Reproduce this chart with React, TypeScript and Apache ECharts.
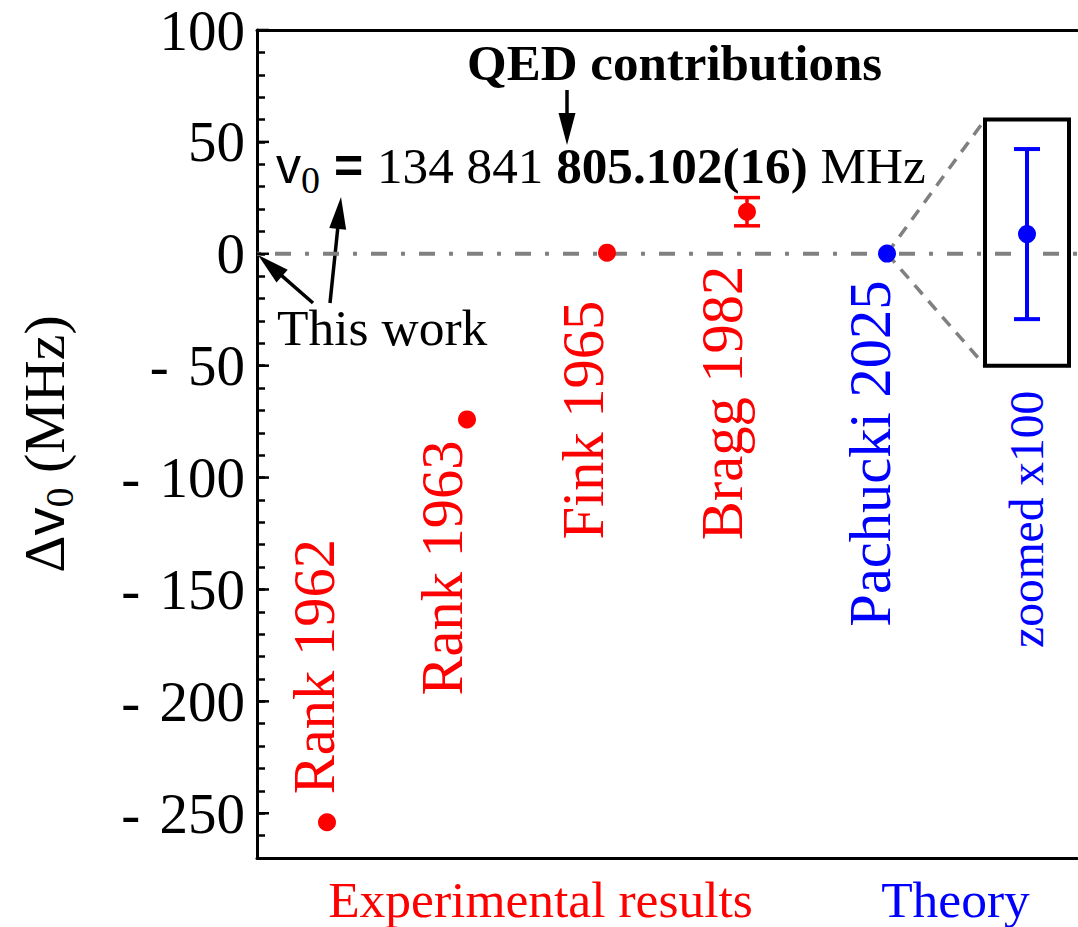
import React, { useEffect, useRef } from "react";
import * as echarts from "echarts";

// ---------- data ----------
const categories = ["Rank 1962", "Rank 1963", "Fink 1965", "Bragg 1982", "Pachucki 2025", "zoomed x100"];
const experimentNames = ["Rank 1962", "Rank 1963", "Fink 1965", "Bragg 1982"];
const experimentValues = [-254, -74, 0.5, 18.8];
const experimentErrors = [0, 0, 0, 6.3];
const theoryNames = ["Pachucki 2025"];
const theoryValues = [0.088];
const theoryErrors = [0.38];
const zoomFactor = 100;
const zoomLabel = "zoomed x100";
const yTicks = [100, 50, 0, -50, -100, -150, -200, -250];
const insetRange = [-50, 60];

// ---------- layout / style ----------
const RED = "#ff0000";
const BLUE = "#0000ff";
const GRAY = "#808080";
const SERIF = '"Liberation Serif", "Times New Roman", serif';
const SANS = '"Liberation Sans", Arial, sans-serif';
const X_MAX = 820 / 140; // slot units visible in the plot

const labelLayout: Record<string, { dx: number; dy: number; align: string }> = {
  "Rank 1962": { dx: -13, dy: -28, align: "left" },
  "Rank 1963": { dx: -25, dy: 21, align: "right" },
  "Fink 1965": { dx: -24, dy: 48, align: "right" },
  "Bragg 1982": { dx: -25, dy: 54, align: "right" },
  "Pachucki 2025": { dx: -17, dy: 27, align: "right" },
};

function arrow(x1: number, y1: number, x2: number, y2: number) {
  const headLen = 32;
  const headW = 17;
  const dx = x2 - x1;
  const dy = y2 - y1;
  const L = Math.hypot(dx, dy);
  const ux = dx / L;
  const uy = dy / L;
  const bx = x2 - ux * headLen;
  const by = y2 - uy * headLen;
  const px = -uy;
  const py = ux;
  return [
    {
      type: "line",
      shape: { x1, y1, x2: bx + ux * 4, y2: by + uy * 4 },
      style: { stroke: "#000", lineWidth: 3.5 },
    },
    {
      type: "polygon",
      shape: {
        points: [
          [x2, y2],
          [bx + (px * headW) / 2, by + (py * headW) / 2],
          [bx - (px * headW) / 2, by - (py * headW) / 2],
        ],
      },
      style: { fill: "#000" },
    },
  ];
}

export default function App() {
  const ref = useRef<HTMLDivElement>(null);

  useEffect(() => {
    document.body.style.margin = "0";
    const chart = echarts.init(ref.current!, null, { renderer: "svg" });

    const xOf = (n: string) => categories.indexOf(n) + 0.5;
    const expData = experimentNames.map((n, i) => [xOf(n), experimentValues[i]]);
    const theoData = theoryNames.map((n, i) => [xOf(n), theoryValues[i]]);
    const errData = experimentNames
      .map((n, i) => [xOf(n), experimentValues[i], experimentErrors[i]])
      .filter((d) => d[2] > 0);
    const labelData = [
      ...experimentNames.map((n, i) => [xOf(n), experimentValues[i], categories.indexOf(n)]),
      ...theoryNames.map((n, i) => [xOf(n), theoryValues[i], categories.indexOf(n)]),
    ];
    const insetX = xOf(zoomLabel);
    const theoX = xOf(theoryNames[0]);

    const frameAxis = {
      type: "value",
      min: 0,
      max: X_MAX,
      axisLine: { show: true, onZero: false, lineStyle: { color: "#000", width: 3 } },
      axisTick: { show: false },
      axisLabel: { show: false },
      splitLine: { show: false },
    };

    const option: any = {
      animation: false,
      backgroundColor: "#fff",
      grid: { left: 257, top: 30, width: 820, height: 828 },
      xAxis: [
        { ...frameAxis, position: "bottom" },
        { ...frameAxis, position: "top" },
      ],
      yAxis: {
        type: "value",
        min: -270,
        max: 100,
        interval: 10,
        axisLine: { show: true, lineStyle: { color: "#000", width: 3 } },
        splitLine: { show: false },
        axisTick: { show: true, inside: true, length: 8, lineStyle: { color: "#000", width: 2.5 } },
        axisLabel: {
          margin: 12,
          color: "#000",
          fontFamily: SERIF,
          fontSize: 57,
          formatter: (v: number) => {
            if (!yTicks.includes(v)) return "";
            return v < 0 ? "{m|-}" + " " + String(-v) : String(v);
          },
          rich: {
            m: { fontFamily: SERIF, fontSize: 57, color: "#000", padding: [0, 5, 0, 0] },
          },
        },
      },
      series: [
        {
          // zero reference line (dash-dot)
          type: "custom",
          name: "reference",
          z: 1,
          data: [[0, 0]],
          encode: { x: 0, y: 1 },
          renderItem: (params: any, api: any) => {
            const p = api.coord([0, api.value(1)]);
            const cs = params.coordSys;
            return {
              type: "line",
              shape: { x1: cs.x, y1: p[1], x2: cs.x + cs.width, y2: p[1] },
              style: { stroke: GRAY, lineWidth: 4, lineDash: [16, 14, 4, 14], lineDashOffset: 30 },
            };
          },
        },
        {
          // major ticks
          type: "custom",
          name: "majorTicks",
          z: 2,
          data: yTicks.map((v) => [0, v]),
          encode: { x: 0, y: 1 },
          renderItem: (params: any, api: any) => {
            const p = api.coord([0, api.value(1)]);
            const x0 = params.coordSys.x;
            return {
              type: "line",
              shape: { x1: x0, y1: p[1], x2: x0 + 12, y2: p[1] },
              style: { stroke: "#000", lineWidth: 2.5 },
            };
          },
        },
        {
          // inset: box, zoom lines, zoomed error bar, label
          type: "custom",
          name: "inset",
          z: 3,
          data: [[insetX, theoryValues[0] * zoomFactor, theoryErrors[0] * zoomFactor]],
          encode: { x: 0, y: 1 },
          renderItem: (params: any, api: any) => {
            const v = api.value(1);
            const e = api.value(2);
            const c = api.coord([insetX, v]);
            const band = api.size([1, 0])[0];
            const half = band * 0.3;
            const topY = api.coord([insetX, insetRange[1]])[1];
            const botY = api.coord([insetX, insetRange[0]])[1];
            const src = api.coord([theoX, theoryValues[0]]);
            const t = api.coord([insetX, v + e]);
            const b = api.coord([insetX, v - e]);
            const cap = 13;
            return {
              type: "group",
              children: [
                {
                  type: "line",
                  shape: { x1: src[0], y1: src[1], x2: c[0] - half, y2: topY },
                  style: { stroke: GRAY, lineWidth: 3.5, lineDash: [12, 9] },
                },
                {
                  type: "line",
                  shape: { x1: src[0], y1: src[1], x2: c[0] - half, y2: botY },
                  style: { stroke: GRAY, lineWidth: 3.5, lineDash: [12, 9] },
                },
                {
                  type: "rect",
                  shape: { x: c[0] - half, y: topY, width: 2 * half, height: botY - topY },
                  style: { stroke: "#000", lineWidth: 4, fill: "none" },
                },
                {
                  type: "line",
                  shape: { x1: t[0], y1: t[1], x2: b[0], y2: b[1] },
                  style: { stroke: BLUE, lineWidth: 4 },
                },
                {
                  type: "line",
                  shape: { x1: t[0] - cap, y1: t[1], x2: t[0] + cap, y2: t[1] },
                  style: { stroke: BLUE, lineWidth: 4 },
                },
                {
                  type: "line",
                  shape: { x1: b[0] - cap, y1: b[1], x2: b[0] + cap, y2: b[1] },
                  style: { stroke: BLUE, lineWidth: 4 },
                },
                {
                  type: "circle",
                  shape: { cx: c[0], cy: c[1], r: 9 },
                  style: { fill: BLUE },
                },
                {
                  type: "text",
                  x: c[0],
                  y: botY + 25,
                  rotation: Math.PI / 2,
                  style: {
                    text: zoomLabel,
                    fill: BLUE,
                    fontFamily: SERIF,
                    fontSize: 47.5,
                    align: "right",
                    verticalAlign: "middle",
                  },
                },
              ],
            };
          },
        },
        {
          // error bars
          type: "custom",
          name: "errorbars",
          z: 4,
          data: errData,
          encode: { x: 0, y: 1 },
          renderItem: (params: any, api: any) => {
            const x = api.value(0);
            const v = api.value(1);
            const e = api.value(2);
            const t = api.coord([x, v + e]);
            const b = api.coord([x, v - e]);
            const cap = 13;
            const col = RED;
            return {
              type: "group",
              children: [
                { type: "line", shape: { x1: t[0], y1: t[1], x2: b[0], y2: b[1] }, style: { stroke: col, lineWidth: 3.5 } },
                { type: "line", shape: { x1: t[0] - cap, y1: t[1], x2: t[0] + cap, y2: t[1] }, style: { stroke: col, lineWidth: 3.5 } },
                { type: "line", shape: { x1: b[0] - cap, y1: b[1], x2: b[0] + cap, y2: b[1] }, style: { stroke: col, lineWidth: 3.5 } },
              ],
            };
          },
        },
        {
          type: "scatter",
          name: "Experimental results",
          z: 5,
          symbol: "circle",
          symbolSize: 18,
          itemStyle: { color: RED, opacity: 1 },
          data: expData,
        },
        {
          type: "scatter",
          name: "Theory",
          z: 5,
          symbol: "circle",
          symbolSize: 18,
          itemStyle: { color: BLUE, opacity: 1 },
          data: theoData,
        },
        {
          // rotated point labels
          type: "custom",
          name: "labels",
          z: 6,
          data: labelData,
          encode: { x: 0, y: 1 },
          renderItem: (params: any, api: any) => {
            const name = categories[api.value(2)];
            const L = labelLayout[name];
            const p = api.coord([api.value(0), api.value(1)]);
            const color = theoryNames.includes(name) ? BLUE : RED;
            return {
              type: "text",
              x: p[0] + L.dx,
              y: p[1] + L.dy,
              rotation: Math.PI / 2,
              style: {
                text: name,
                fill: color,
                fontFamily: SERIF,
                fontSize: 58.5,
                align: L.align,
                verticalAlign: "middle",
              },
            };
          },
        },
      ],
      graphic: [
        {
          type: "text",
          x: 44,
          y: 444,
          rotation: Math.PI / 2,
          style: {
            text: "{d|Δ}{v|v}{s|0}{d| (MHz)}",
            align: "center",
            verticalAlign: "middle",
            fill: "#000",
            rich: {
              d: { fontFamily: SERIF, fontSize: 58, fill: "#000" },
              v: { fontFamily: SANS, fontSize: 56, fill: "#000" },
              s: { fontFamily: SERIF, fontSize: 40, fill: "#000", padding: [30, 0, 0, 0] },
            },
          },
        },
        {
          type: "text",
          x: 276,
          y: 165.5,
          style: {
            text: "{v|v}{s|0}{e| = }{n|134 841 }{b|805.102(16)}{n| MHz}",
            align: "left",
            verticalAlign: "middle",
            fill: "#000",
            rich: {
              v: { fontFamily: SANS, fontSize: 50, fill: "#000" },
              s: { fontFamily: SERIF, fontSize: 38, fill: "#000", padding: [28, 0, 0, 0] },
              e: { fontFamily: SANS, fontWeight: "bold", fontSize: 50, fill: "#000" },
              n: { fontFamily: SERIF, fontSize: 51.2, fill: "#000" },
              b: { fontFamily: SERIF, fontWeight: "bold", fontSize: 51.2, fill: "#000" },
            },
          },
        },
        {
          type: "text",
          x: 467,
          y: 63,
          style: {
            text: "QED contributions",
            fontFamily: SERIF,
            fontWeight: "bold",
            fontSize: 51,
            fill: "#000",
            align: "left",
            verticalAlign: "middle",
          },
        },
        {
          type: "text",
          x: 277,
          y: 327.6,
          style: {
            text: "This work",
            fontFamily: SERIF,
            fontSize: 51.5,
            fill: "#000",
            align: "left",
            verticalAlign: "middle",
          },
        },
        {
          type: "text",
          x: 540.5,
          y: 899.6,
          style: {
            text: "Experimental results",
            fontFamily: SERIF,
            fontSize: 51.5,
            fill: RED,
            align: "center",
            verticalAlign: "middle",
          },
        },
        {
          type: "text",
          x: 955.5,
          y: 899.6,
          style: {
            text: "Theory",
            fontFamily: SERIF,
            fontSize: 51.5,
            fill: BLUE,
            align: "center",
            verticalAlign: "middle",
          },
        },
        ...arrow(567, 90, 567, 145),
        ...arrow(313, 303, 258, 255),
        ...arrow(330, 303, 341, 197),
      ],
    };

    chart.setOption(option);
    return () => chart.dispose();
  }, []);

  return <div ref={ref} style={{ width: 1078, height: 927, background: "#fff" }} />;
}
